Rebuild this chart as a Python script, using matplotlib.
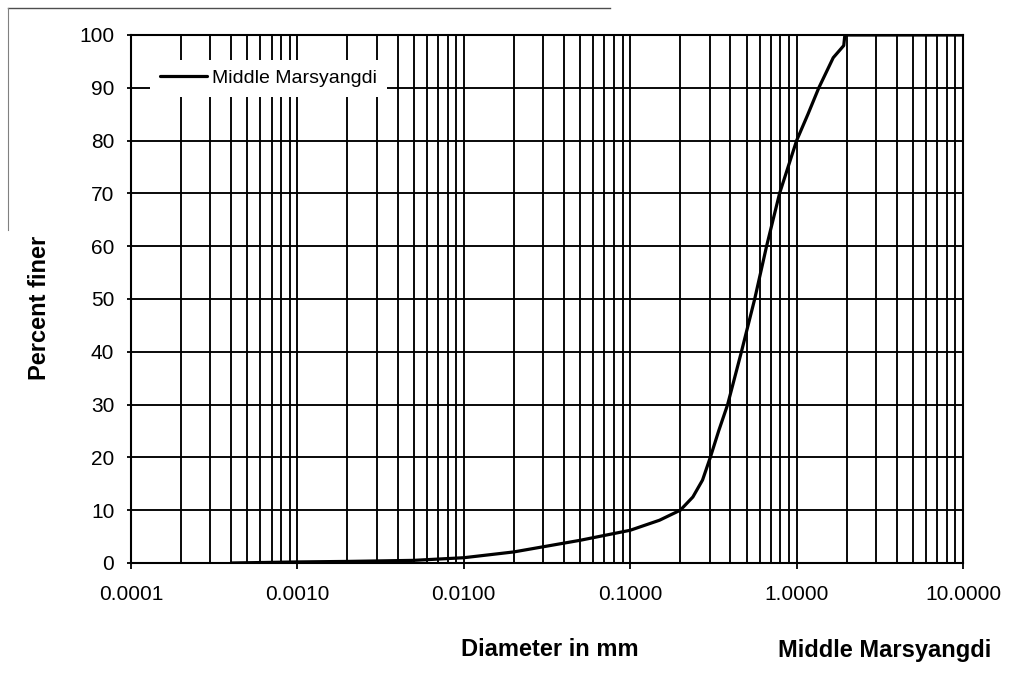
import numpy as np
import matplotlib
matplotlib.use("Agg")
import matplotlib.pyplot as plt
from matplotlib.lines import Line2D
from matplotlib.ticker import FixedLocator, LogLocator, NullFormatter

# Grain size distribution, Middle Marsyangdi
diameter_mm = [0.0004, 0.001, 0.002, 0.005, 0.01, 0.02, 0.05, 0.1, 0.15, 0.2,
               0.238, 0.272, 0.303, 0.34, 0.385, 0.466, 0.56, 0.66, 0.79, 1.0,
               1.17, 1.36, 1.66, 1.92, 1.95, 10.0]
percent_finer = [0, 0.2, 0.3, 0.5, 1.0, 2.1, 4.3, 6.2, 8.1, 10.0,
                 12.5, 15.7, 20.0, 25.0, 30.0, 40.0, 50.0, 60.0, 70.0, 80.0,
                 85.0, 90.0, 95.7, 98.0, 100.0, 100.0]
series_name = "Middle Marsyangdi"
x_ticks = [0.0001, 0.001, 0.01, 0.1, 1.0, 10.0]
x_tick_labels = ["0.0001", "0.0010", "0.0100", "0.1000", "1.0000", "10.0000"]
y_ticks = list(range(0, 101, 10))

plt.rcParams['font.family'] = ['Liberation Sans', 'DejaVu Sans']

fig = plt.figure(figsize=(10.28, 6.75), dpi=100)
ax = fig.add_axes([131/1028, 1 - 563/675, 832/1028, 528/675])

ax.set_xscale("log")
ax.set_xlim(x_ticks[0], x_ticks[-1])
ax.set_ylim(0, 100)

ax.plot(diameter_mm, percent_finer, color="black", lw=2.3,
        solid_capstyle="round", solid_joinstyle="round",
        label=series_name, zorder=3)

ax.xaxis.set_major_locator(FixedLocator(x_ticks))
ax.set_xticklabels(x_tick_labels)
ax.xaxis.set_minor_locator(LogLocator(base=10, subs=np.arange(2, 10)))
ax.xaxis.set_minor_formatter(NullFormatter())
ax.set_yticks(y_ticks)

ax.grid(True, which="both", axis="x", color="black", lw=1.35)
ax.grid(True, which="major", axis="y", color="black", lw=1.35)
ax.set_axisbelow(True)

ax.tick_params(axis="x", which="major", direction="out", length=4, width=1.3,
               pad=12, labelsize=15)
ax.tick_params(axis="x", which="minor", length=0)
ax.tick_params(axis="y", direction="out", length=3, width=1.3, pad=9, labelsize=15)
for s in ax.spines.values():
    s.set_linewidth(1.5)
    s.set_color("black")

leg = ax.legend(loc="upper left", bbox_to_anchor=(0.023, 0.953), frameon=True,
                fancybox=False, framealpha=1, edgecolor="none", borderaxespad=0,
                fontsize=14, handlelength=2.4, handletextpad=0.3,
                borderpad=0.5)
leg.get_frame().set_facecolor("white")
leg.set_zorder(5)

fig.text(40/1028, 1 - 308/675, "Percent finer", rotation=90, ha="center",
         va="center", fontsize=17, fontweight="bold")
fig.text(550/1028, 1 - 650/675, "Diameter in mm", ha="center", va="center",
         fontsize=17, fontweight="bold")
fig.text(885/1028, 1 - 650/675, "Middle Marsyangdi", ha="center", va="center",
         fontsize=17, fontweight="bold")

# partial page frame visible on the scan
fig.add_artist(Line2D([8/1028, 610/1028], [1 - 8/675, 1 - 8/675],
                      color="0.3", lw=1.0))
fig.add_artist(Line2D([8/1028, 8/1028], [1 - 8/675, 1 - 230/675],
                      color="0.5", lw=0.8))

fig.savefig("out.png", dpi=100)
